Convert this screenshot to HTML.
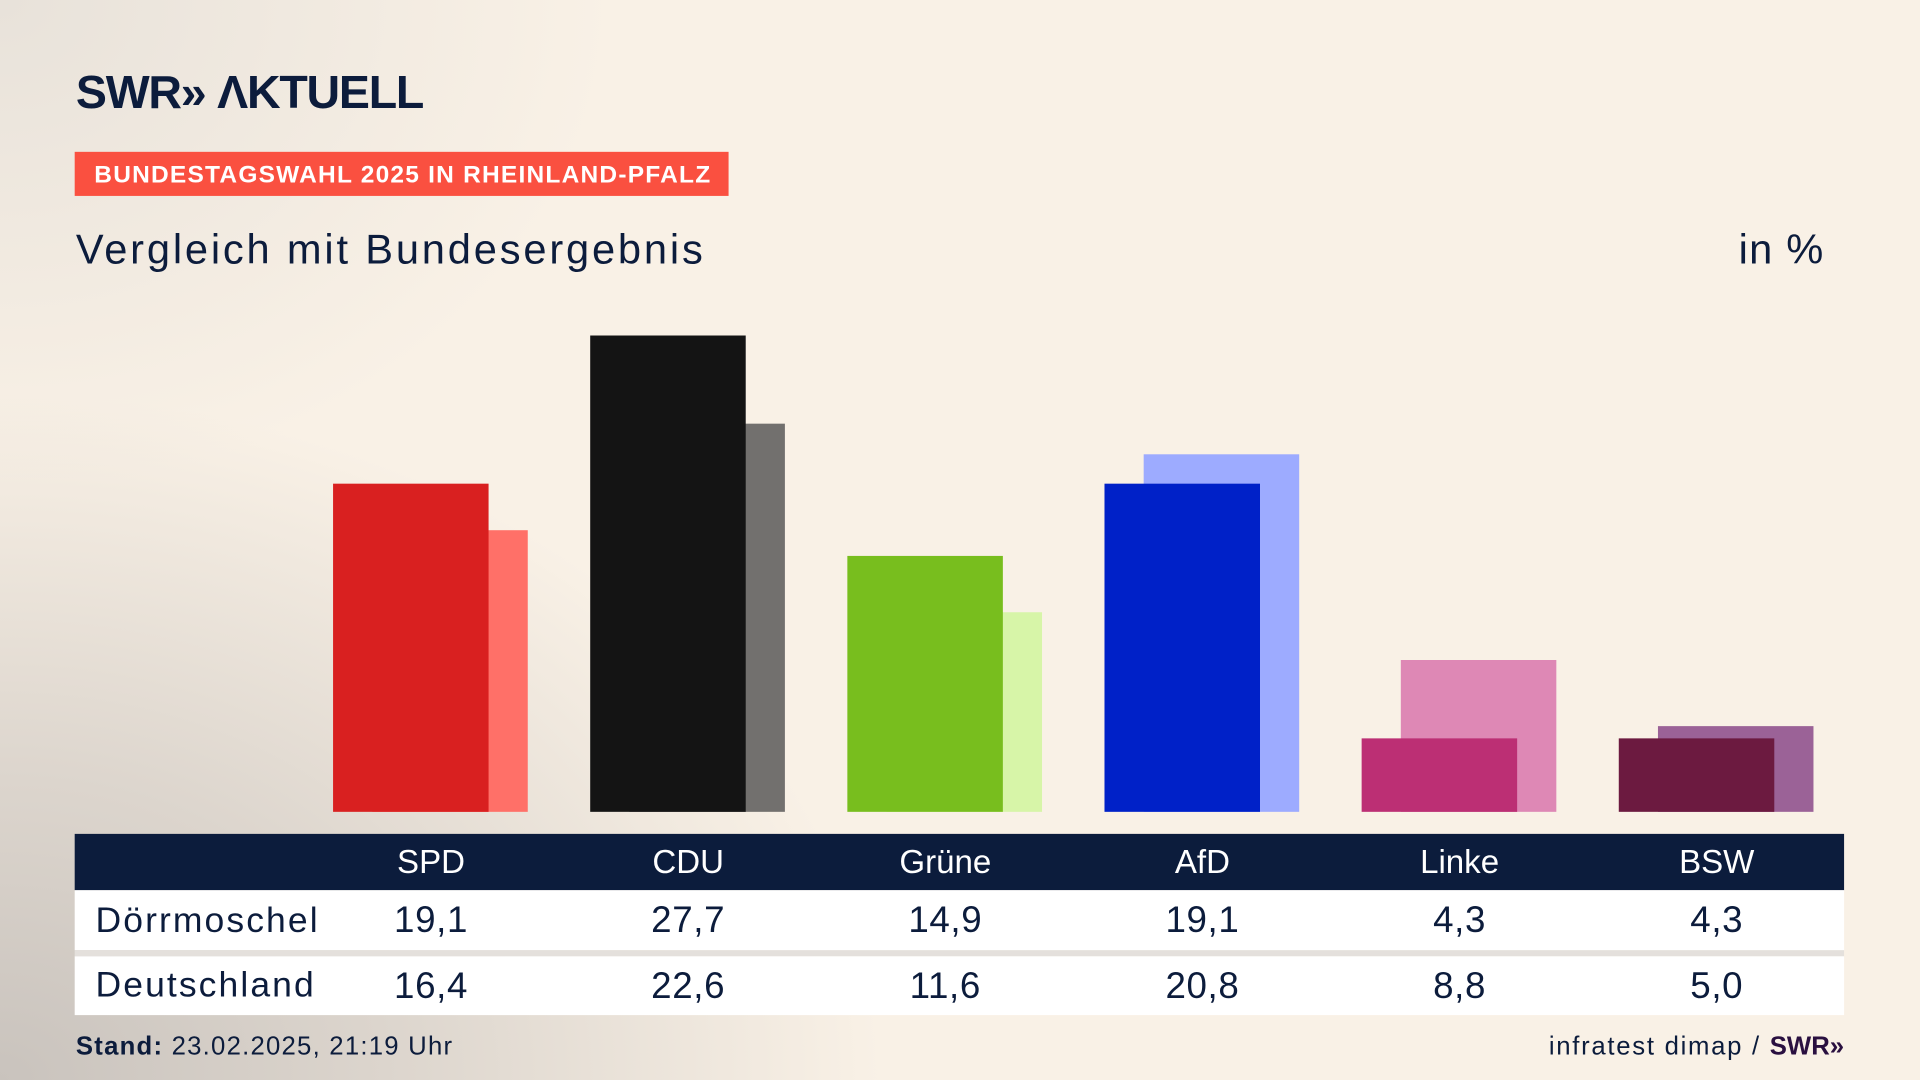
<!DOCTYPE html>
<html><head><meta charset="utf-8"><style>
html,body{margin:0;padding:0;width:1920px;height:1080px;overflow:hidden}
#w{position:absolute;left:0;top:0;width:1568px;height:882px;transform:scale(1.22449);transform-origin:0 0;
background:radial-gradient(ellipse 900px 700px at 0px 882px,#c9c3bd 0%,#dcd5cd 35%,rgba(248,240,230,0) 80%),radial-gradient(ellipse 500px 400px at 0px 0px,#e8e2da 0%,rgba(248,240,230,0) 100%),#f9f1e6;
font-family:"Liberation Sans",sans-serif;color:#0c1c3c}
.a{position:absolute}
.b{position:absolute;bottom:219px;width:127px}
.h{position:absolute;top:681px;height:46px;line-height:46px;color:#fff;font-size:27px;width:160px;text-align:center}
.v{position:absolute;font-size:30px;width:160px;text-align:center;letter-spacing:0.5px}
</style></head><body><div id="w">
<div class="a" style="left:62px;top:55px;font-size:38px;font-weight:bold;letter-spacing:-1px">SWR» ΛKTUELL</div>
<div class="a" style="left:61px;top:124px;width:534px;height:36px;background:#fa5040;color:#fff;font-weight:bold;font-size:20px;line-height:38px;text-indent:16px;white-space:nowrap;letter-spacing:1px">BUNDESTAGSWAHL 2025 IN RHEINLAND-PFALZ</div>
<div class="a" style="left:62px;top:185px;font-size:34px;letter-spacing:2.3px">Vergleich mit Bundesergebnis</div>
<div class="a" style="right:78px;top:185px;font-size:34px;letter-spacing:1px">in %</div>

<div class="b" style="left:304px;height:230px;background:#ff7068"></div>
<div class="b" style="left:272px;height:268px;background:#d92020"></div>
<div class="b" style="left:514px;height:317px;background:#72706e"></div>
<div class="b" style="left:482px;height:389px;background:#141414"></div>
<div class="b" style="left:724px;height:163px;background:#d7f5a8"></div>
<div class="b" style="left:692px;height:209px;background:#78be1e"></div>
<div class="b" style="left:934px;height:292px;background:#9dabff"></div>
<div class="b" style="left:902px;height:268px;background:#0021c8"></div>
<div class="b" style="left:1144px;height:124px;background:#de88b5"></div>
<div class="b" style="left:1112px;height:60px;background:#bc2f74"></div>
<div class="b" style="left:1354px;height:70px;background:#9b6297"></div>
<div class="b" style="left:1322px;height:60px;background:#6c1a40"></div>

<div class="a" style="left:61px;top:681px;width:1445px;height:46px;background:#0c1c3c"></div>
<div class="a" style="left:61px;top:727px;width:1445px;height:49px;background:#fff"></div>
<div class="a" style="left:61px;top:776px;width:1445px;height:5px;background:#e4e0dc"></div>
<div class="a" style="left:61px;top:781px;width:1445px;height:48px;background:#fff"></div>
<div class="h" style="left:272px">SPD</div><div class="h" style="left:482px">CDU</div><div class="h" style="left:692px">Grüne</div><div class="h" style="left:902px">AfD</div><div class="h" style="left:1112px">Linke</div><div class="h" style="left:1322px">BSW</div>
<div class="a" style="left:78px;top:736px;font-size:29px;letter-spacing:1.7px">Dörrmoschel</div>
<div class="a" style="left:78px;top:789px;font-size:29px;letter-spacing:1.7px">Deutschland</div>
<div class="v" style="left:272px;top:735px">19,1</div><div class="v" style="left:482px;top:735px">27,7</div><div class="v" style="left:692px;top:735px">14,9</div><div class="v" style="left:902px;top:735px">19,1</div><div class="v" style="left:1112px;top:735px">4,3</div><div class="v" style="left:1322px;top:735px">4,3</div>
<div class="v" style="left:272px;top:789px">16,4</div><div class="v" style="left:482px;top:789px">22,6</div><div class="v" style="left:692px;top:789px">11,6</div><div class="v" style="left:902px;top:789px">20,8</div><div class="v" style="left:1112px;top:789px">8,8</div><div class="v" style="left:1322px;top:789px">5,0</div>
<div class="a" style="left:62px;top:843px;font-size:21px;letter-spacing:1px"><b>Stand:</b> 23.02.2025, 21:19 Uhr</div>
<div class="a" style="right:62px;top:843px;font-size:21px;letter-spacing:1.4px">infratest dimap / <b style="color:#2a1040;letter-spacing:0">SWR»</b></div>
</div></body></html>
